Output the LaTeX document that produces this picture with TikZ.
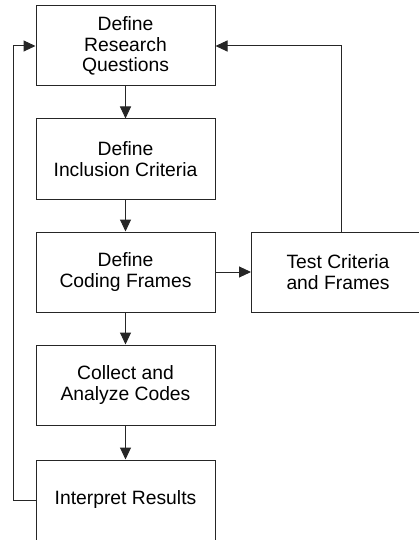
\documentclass[tikz,border=0pt]{standalone}
\usepackage{fontspec}
\setmainfont{Liberation Sans}
\usetikzlibrary{arrows.meta}
\begin{document}
\begin{tikzpicture}[x=1pt,y=-1pt,
  label text/.style={align=center, inner sep=0pt, font=\fontsize{19.3}{20.5}\selectfont},
  stepbox/.style={draw=black!85, line width=1pt, minimum width=179pt, minimum height=80pt, label text},
  flow/.style={draw=black!85, line width=1pt, -{Triangle[length=12pt,width=11pt]}}]
\useasboundingbox (0,0) rectangle (419,540);
\node[stepbox] (rq) at (125.5,46) {Define\\Research\\Questions};
\node[stepbox] (ic) at (125.5,159) {Define\\Inclusion Criteria};
\node[stepbox] (cf) at (125.5,272) {Define\\Coding Frames};
\node[stepbox] (ca) at (125.5,385) {Collect and\\Analyze Codes};
% last box and the test box run past the page edge
\node[stepbox, minimum height=86pt] (ir) at (125.5,503) {};
\node[label text] (irt) at (125.5,500) {Interpret Results};
\node[stepbox, minimum width=200pt, anchor=west] (tc) at (251,272) {};
\node[label text] (tct) at (338,272) {Test Criteria\\and Frames};
\coordinate (lc) at (13,0);
\coordinate (rc) at (341,0);
\path[flow] (rq) -- (ic);
\path[flow] (ic) -- (cf);
\path[flow] (cf) -- (ca);
\path[flow] (ca) -- (ir);
\path[flow] (cf) -- (tc);
\path[flow] (rc |- tc.north) -- (rc |- rq.east) -- (rq.east);
\path[flow] (irt -| ir.west) -| (lc |- rq.west) -- (rq.west);
\end{tikzpicture}
\end{document}
